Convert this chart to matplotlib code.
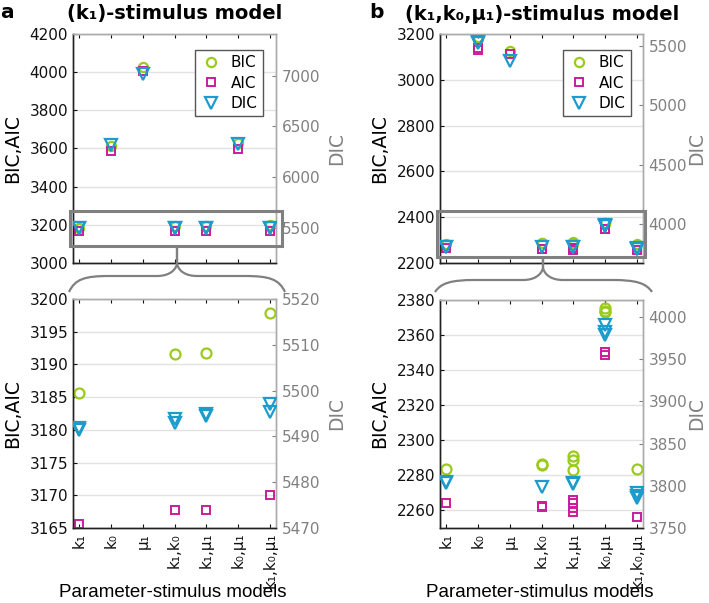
import matplotlib
matplotlib.use('Agg')
import matplotlib.pyplot as plt
from matplotlib.path import Path
from matplotlib.patches import PathPatch, Rectangle

W, H = 709, 603

# ---------------- data ----------------
models = ['k₁', 'k₀', 'μ₁', 'k₁,k₀', 'k₁,μ₁', 'k₀,μ₁', 'k₁,k₀,μ₁']

# panel a: (k1)-stimulus model
bic_a = [[3185.6], [3612], [4028], [3191.6], [3191.8], [3629], [3197.8]]
aic_a = [[3165.6], [3586], [4005], [3167.7], [3167.8], [3595], [3170.0]]
dic_a = [[5491.8, 5491.4], [6319], [7020], [5493.9, 5493.0], [5494.8, 5494.5],
         [6329], [5497.1, 5495.4]]

# panel b: (k1,k0,mu1)-stimulus model
bic_b = [[2283.9], [3186, 3180], [3124], [2286.5, 2286.0], [2291.1, 2288.6, 2283.1],
         [2375.3, 2373.9, 2373.0], [2283.9]]
aic_b = [[2264.4], [3132, 3140], [3112], [2262.7, 2262.1],
         [2266.1, 2264.2, 2261.6, 2258.9], [2350.1, 2348.6], [2256.1]]
dic_b = [[3805, 3803], [5540, 5525], [5373], [3798.6], [3803, 3802],
         [3990.9, 3981.8, 3979.1], [3791.5, 3788.3, 3785.6]]

titles = ['(k₁)-stimulus model', '(k₁,k₀,μ₁)-stimulus model']
panel_letters = ['a', 'b']
xlabel = 'Parameter-stimulus models'

C_BIC = '#9ACB1C'
C_AIC = '#CC1B9C'
C_DIC = '#1C9BCC'
GRAY = '#808080'
RGRAY = '#ababab'

plt.rcParams['font.family'] = ['DejaVu Sans']

fig = plt.figure(figsize=(W / 100, H / 100), dpi=100)


def px_rect(l, t, r, b):
    return [l / W, 1 - b / H, (r - l) / W, (b - t) / H]


def fx(x):
    return x / W


def fy(y):
    return 1 - y / H


def flat(vals):
    xs, ys = [], []
    for i, vs in enumerate(vals):
        for v in vs:
            xs.append(i + 1)
            ys.append(v)
    return xs, ys


def panel(box, ylim_l, yt_l, ylim_r, yt_r, bic, aic, dic, big, show_x,
          legend_px=None, dic_x=1.251):
    ax = fig.add_axes(px_rect(*box))
    ax2 = ax.twinx()
    ms_o, ms_s, ms_v = (7.2, 5.8, 8.2) if big else (6.6, 5.6, 8.0)
    x, y = flat(bic)
    h1, = ax.plot(x, y, 'o', ms=ms_o, mfc='none', mec=C_BIC, mew=1.6, zorder=3, label='BIC')
    x, y = flat(aic)
    h2, = ax.plot(x, y, 's', ms=ms_s, mfc='none', mec=C_AIC, mew=1.4, zorder=3, label='AIC')
    x, y = flat(dic)
    h3, = ax2.plot(x, y, 'v', ms=ms_v, mfc='none', mec=C_DIC, mew=1.6, zorder=3, label='DIC')

    ax.set_xlim(0.8, 7.2)
    ax.set_ylim(*ylim_l)
    ax.set_yticks(yt_l)
    ax2.set_ylim(*ylim_r)
    ax2.set_yticks(yt_r)
    ax.set_xticks(range(1, 8))
    ax.grid(axis='y', color='#e3e3e3', lw=1.0, zorder=0)
    ax.set_axisbelow(True)

    ax.tick_params(axis='both', direction='in', length=3, labelsize=11, colors='#111111',
                   top=True, width=0.8)
    ax.tick_params(axis='y', right=False)
    ax2.tick_params(axis='y', direction='in', length=3, labelsize=11, colors=GRAY,
                    width=0.8, pad=4)
    for a in (ax, ax2):
        a.spines['left'].set_color('#222222')
        a.spines['bottom'].set_color('#222222')
        a.spines['top'].set_color(RGRAY)
        a.spines['right'].set_color(RGRAY)
        for s in a.spines.values():
            s.set_linewidth(1.0)
    if show_x:
        ax.set_xticklabels(models, rotation=90, fontsize=11)
        cx = (box[0] + box[2]) / 2 - 2
        fig.text(fx(cx), fy(597), xlabel, ha='center', va='baseline', fontsize=13.5,
                 family='Liberation Sans')
    else:
        ax.set_xticklabels([])
    ax.set_ylabel('BIC,AIC', fontsize=13.5)
    ax2.set_ylabel('DIC', fontsize=13.5, color=GRAY)
    ax.yaxis.set_label_coords(-0.251, 0.5)
    ax2.yaxis.set_label_coords(dic_x, 0.5)
    if legend_px is not None:
        leg = ax2.legend([h1, h2, h3], ['BIC', 'AIC', 'DIC'], loc='upper right',
                         bbox_to_anchor=(legend_px[0] / W, 1 - legend_px[1] / H),
                         bbox_transform=fig.transFigure, borderaxespad=0,
                         fancybox=False, edgecolor='#555555', fontsize=11,
                         handletextpad=0.6, borderpad=0.35, labelspacing=0.35,
                         handlelength=1.4, framealpha=1)
        leg.get_frame().set_linewidth(1.0)
    return ax, ax2


# panel a
panel((73, 34, 276, 263), (3000, 4200), range(3000, 4201, 200), (5150, 7410),
      range(5500, 7001, 500), bic_a, aic_a, dic_a, False, False, legend_px=(263, 50))
panel((73, 299, 276, 528), (3165, 3200), range(3165, 3201, 5), (5470, 5520),
      range(5470, 5521, 10), bic_a, aic_a, dic_a, True, True)

# panel b
panel((440, 34, 643, 263), (2200, 3200), range(2200, 3201, 200), (3667, 5604),
      range(4000, 5501, 500), bic_b, aic_b, dic_b, False, False, legend_px=(631, 50),
      dic_x=1.215)
panel((440, 300, 643, 528), (2250, 2380), range(2260, 2381, 20), (3750, 4020),
      range(3750, 4001, 50), bic_b, aic_b, dic_b, True, True, dic_x=1.215)


# highlight rectangles
for (l, t, r, b) in [(70, 211, 282, 246), (437, 211, 645, 257)]:
    fig.patches.append(Rectangle((fx(l), fy(b)), fx(r) - fx(l), fy(t) - fy(b),
                                 transform=fig.transFigure, fill=False,
                                 edgecolor=GRAY, lw=2.2, zorder=10))


def brace(cx, top, left, right, yend, yh):
    codes = [Path.MOVETO, Path.CURVE4, Path.CURVE4, Path.CURVE4,
             Path.LINETO, Path.CURVE4, Path.CURVE4, Path.CURVE4, Path.LINETO]
    for sgn, end in ((1, left), (-1, right)):
        vs = [(end, yend), (end + sgn * 6, yh + 3), (end + sgn * 16, yh),
              (end + sgn * 40, yh), (cx - sgn * 20, yh), (cx - sgn * 10, yh),
              (cx - sgn * 2, yh - 4), (cx, yh - 12), (cx, top)]
        p = Path([(fx(a), fy(b)) for a, b in vs], codes)
        fig.patches.append(PathPatch(p, transform=fig.transFigure, fill=False,
                                     edgecolor=GRAY, lw=1.6, zorder=10))


brace(177, 246, 69, 285, 292, 276)
brace(543, 257, 435, 652, 292, 280)

# titles
fig.text(fx(175), fy(14), titles[0], ha='center', va='center', fontsize=14,
         fontweight='bold')
fig.text(fx(542), fy(14), titles[1], ha='center', va='center', fontsize=14,
         fontweight='bold')
fig.text(fx(0), fy(13), panel_letters[0], ha='left', va='center', fontsize=14.5,
         fontweight='bold')
fig.text(fx(369), fy(13), panel_letters[1], ha='left', va='center', fontsize=14.5,
         fontweight='bold')

fig.savefig('out.png', dpi=100)
